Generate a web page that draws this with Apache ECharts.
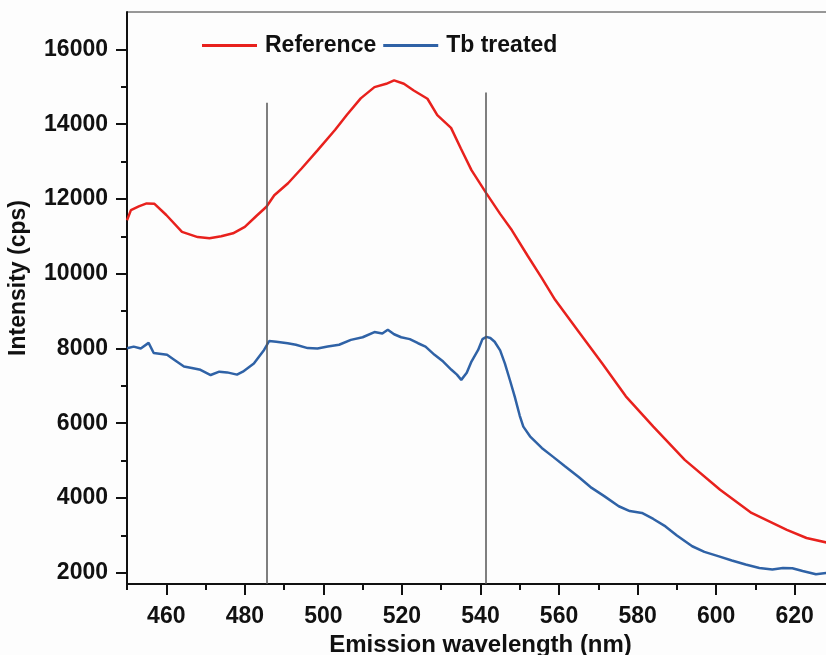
<!DOCTYPE html>
<html>
<head>
<meta charset="utf-8">
<script src="https://cdn.jsdelivr.net/npm/echarts@6/dist/echarts.min.js"></script>
<style>
  html, body { margin: 0; padding: 0; background: #fdfdfd; }
  #chart { width: 826px; height: 655px; }
</style>
</head>
<body>
<div id="chart"></div>
<script>
// wavelength (nm) / intensity (cps)
var refWl = [450, 451, 453, 455, 457, 460, 464, 468, 471, 474, 477, 480, 483, 485.5, 487.5, 491, 494.5, 498.5,
  503, 506, 509.5, 513, 516, 518, 520.5, 523, 526.5, 529, 532.5, 535, 537.7, 541.5, 545, 548, 552, 555.5,
  559, 565, 571, 577, 584, 592, 601, 609, 618, 623, 628.5];
var refVal = [11430, 11700, 11800, 11880, 11870, 11570, 11120, 10980, 10950, 11000, 11080, 11250, 11550, 11790, 12100, 12420, 12820, 13300,
  13850, 14250, 14690, 14990, 15080, 15170, 15080, 14900, 14680, 14240, 13900, 13350, 12770, 12150, 11600, 11160, 10480, 9900,
  9300, 8450, 7600, 6720, 5910, 5020, 4220, 3600, 3150, 2930, 2800];

var tbWl = [450, 451.7, 453.5, 455.5, 456.8, 460.2, 462, 464.5, 466.5, 468.7, 471.3, 473.5, 475.5, 478, 479.5, 482.3, 484.9, 486.2,
  488, 490.9, 493, 496, 498.5, 501.1, 504, 507, 510, 513, 515, 516.4, 518, 519.8, 522, 524.1, 526, 528.3, 530.5, 532.6,
  534, 535.1, 536.5, 537.7, 539.4, 540.5, 541.5, 542.5, 543.6, 545, 546.2, 547.5, 548.7, 550, 550.9, 552.6, 555.6, 558.5,
  561.5, 565, 568.3, 571.5, 575.2, 578, 581.1, 584, 587.1, 590, 593.9, 597, 600.7, 604, 607.5, 611, 614.3, 617, 619.4,
  622, 625.4, 628.6];
var tbVal = [8007, 8050, 8000, 8150, 7880, 7830, 7700, 7520, 7480, 7430, 7290, 7380, 7360, 7300, 7380, 7600, 7960, 8200,
  8180, 8140, 8100, 8010, 8000, 8050, 8100, 8230, 8300, 8440, 8400, 8500, 8380, 8300, 8250, 8140, 8050, 7830, 7650, 7430,
  7300, 7160, 7350, 7650, 7960, 8250, 8310, 8280, 8180, 7950, 7600, 7150, 6720, 6200, 5910, 5650, 5340, 5100,
  4850, 4560, 4270, 4050, 3780, 3650, 3600, 3440, 3240, 3000, 2710, 2560, 2440, 2330, 2220, 2130, 2090, 2130, 2120,
  2050, 1960, 2000];

// vertical guide lines: [wavelength, top intensity]
var guideLines = [[485.5, 14570], [541.3, 14850]];

var xMajor = [460, 480, 500, 520, 540, 560, 580, 600, 620];
var xMinor = [450, 470, 490, 510, 530, 550, 570, 590, 610, 630];
var yMajor = [2000, 4000, 6000, 8000, 10000, 12000, 14000, 16000];
var yMinor = [3000, 5000, 7000, 9000, 11000, 13000, 15000];

var X_MIN = 450, X_MAX = 630, Y_MIN = 1700, Y_MAX = 17000;

function zip(a, b) {
    var out = [];
    for (var i = 0; i < a.length; i++) out.push([a[i], b[i]]);
    return out;
}
function plain(v) { return String(v); }

var font = 'Liberation Sans, Arial, sans-serif';
var chart = echarts.init(document.getElementById('chart'), null, { renderer: 'canvas' });

var guideData = [];
for (var i = 0; i < guideLines.length; i++) {
    guideData.push([{ coord: [guideLines[i][0], Y_MIN] }, { coord: [guideLines[i][0], guideLines[i][1]] }]);
}

var option = {
    backgroundColor: '#fdfdfd',
    animation: false,
    grid: {
        left: 127, right: -8, top: 12, bottom: 71,
        outerBoundsMode: 'none', containLabel: false,
        show: true, borderColor: '#333', borderWidth: 1, backgroundColor: 'transparent'
    },
    legend: {
        left: 202, top: 34, padding: 0, itemGap: 7,
        itemWidth: 55, itemHeight: 3, icon: 'rect',
        textStyle: { fontFamily: font, fontWeight: 'bold', fontSize: 23, color: '#111', padding: [0, 0, 0, 3] },
        data: ['Reference', 'Tb treated']
    },
    xAxis: [{
        type: 'value', min: X_MIN, max: X_MAX,
        name: 'Emission wavelength (nm)', nameLocation: 'middle', nameGap: 49,
        nameTextStyle: { fontFamily: font, fontWeight: 'bold', fontSize: 24, color: '#111' },
        axisLine: { lineStyle: { color: '#111', width: 2 } },
        axisTick: { customValues: xMajor, length: 11, lineStyle: { color: '#111', width: 2 } },
        axisLabel: { customValues: xMajor, formatter: plain, margin: 21, fontFamily: font, fontWeight: 'bold', fontSize: 23, color: '#111' },
        splitLine: { show: false }
    }, {
        type: 'value', min: X_MIN, max: X_MAX, position: 'bottom',
        axisLine: { show: false },
        axisTick: { customValues: xMinor, length: 6, lineStyle: { color: '#111', width: 2 } },
        axisLabel: { show: false },
        splitLine: { show: false }
    }],
    yAxis: [{
        type: 'value', min: Y_MIN, max: Y_MAX,
        axisLine: { show: true, lineStyle: { color: '#111', width: 2 } },
        axisTick: { show: true, customValues: yMajor, length: 11, lineStyle: { color: '#111', width: 2 } },
        axisLabel: { customValues: yMajor, formatter: plain, margin: 19, fontFamily: font, fontWeight: 'bold', fontSize: 23, color: '#111' },
        splitLine: { show: false }
    }, {
        type: 'value', min: Y_MIN, max: Y_MAX, position: 'left',
        axisLine: { show: false },
        axisTick: { show: true, customValues: yMinor, length: 6, lineStyle: { color: '#111', width: 2 } },
        axisLabel: { show: false },
        splitLine: { show: false }
    }],
    graphic: [{
        type: 'text', x: 19, y: 278, rotation: Math.PI / 2,
        style: { text: 'Intensity (cps)', fontFamily: font, fontWeight: 'bold', fontSize: 23, fill: '#111', align: 'center', verticalAlign: 'middle' }
    }],
    series: [{
        name: 'Reference', type: 'line', symbol: 'none',
        lineStyle: { color: '#e8211d', width: 2.5 }, itemStyle: { color: '#e8211d' },
        data: zip(refWl, refVal),
        markLine: {
            silent: true, symbol: 'none', label: { show: false },
            lineStyle: { color: '#555', width: 1.5, type: 'solid' },
            data: guideData
        },
        z: 3
    }, {
        name: 'Tb treated', type: 'line', symbol: 'none',
        lineStyle: { color: '#2f62a6', width: 2.5 }, itemStyle: { color: '#2f62a6' },
        data: zip(tbWl, tbVal),
        z: 3
    }]
};
chart.setOption(option);
</script>
</body>
</html>
